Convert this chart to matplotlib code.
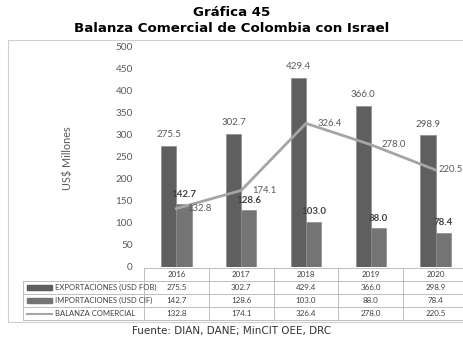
import matplotlib
matplotlib.use("Agg")
import matplotlib.pyplot as plt
from matplotlib.lines import Line2D
from matplotlib.patches import Rectangle

years = ["2016", "2017", "2018", "2019", "2020"]
exportaciones = [275.5, 302.7, 429.4, 366.0, 298.9]
importaciones = [142.7, 128.6, 103.0, 88.0, 78.4]
balanza = [132.8, 174.1, 326.4, 278.0, 220.5]
series_names = ["EXPORTACIONES (USD FOB)", "IMPORTACIONES (USD CIF)", "BALANZA COMERCIAL"]
y_ticks = [0, 50, 100, 150, 200, 250, 300, 350, 400, 450, 500]

W, H = 464, 339
C_EXP = "#5f5f5f"
C_IMP = "#747474"
C_BAL = "#a5a5a5"
C_TXT = "#404040"
C_GRID = "#bfbfbf"
FONT = "Lato"


def fx(x):
    return x / W


def fy(y):
    return 1 - y / H


fig = plt.figure(figsize=(W / 100, H / 100), dpi=100)
fig.patch.set_facecolor("white")

# outer chart frame
fig.add_artist(Rectangle((fx(8), fy(322)), fx(470) - fx(8), fy(40) - fy(322),
                         transform=fig.transFigure, fill=False,
                         edgecolor="#d0d0d0", linewidth=0.8))

# titles
fig.text(0.5, fy(12), "Gráfica 45", ha="center", va="center",
         fontsize=9.6, fontweight="bold", family="DejaVu Sans")
fig.text(0.5, fy(28), "Balanza Comercial de Colombia con Israel", ha="center",
         va="center", fontsize=9.6, fontweight="bold", family="DejaVu Sans")

ax = fig.add_axes([fx(144), fy(267), fx(468) - fx(144), fy(47) - fy(267)])
ax.set_facecolor("none")
n = len(years)
xs = list(range(n))
bw = 0.235
ax.bar([x - bw / 2 for x in xs], exportaciones, width=bw, color=C_EXP,
       edgecolor="#8c8c8c", linewidth=0.5, zorder=2)
ax.bar([x + bw / 2 for x in xs], importaciones, width=bw, color=C_IMP,
       edgecolor="#8c8c8c", linewidth=0.5, zorder=2)
ax.plot(xs, balanza, color=C_BAL, linewidth=2, zorder=3)

ax.set_xlim(-0.5, n - 0.5)
ax.set_ylim(0, 500)
ax.set_yticks(y_ticks)
ax.set_yticklabels([str(t) for t in y_ticks], fontsize=7.2, color="#595959",
                   family=FONT)
ax.tick_params(axis="y", length=0, pad=8)
ax.set_xticks([])
for s in ax.spines.values():
    s.set_visible(False)

for x, v in zip(xs, exportaciones):
    ax.annotate(f"{v:.1f}", (x - bw / 2, v), xytext=(0, 5),
                textcoords="offset points", ha="center", va="bottom",
                fontsize=7, color="#595959", family=FONT)
for x, v in zip(xs, importaciones):
    ax.annotate(f"{v:.1f}", (x + bw / 2, v), xytext=(0, 4),
                textcoords="offset points", ha="center", va="bottom",
                fontsize=7, color=C_TXT, fontweight="bold", family=FONT)
bal_offsets = [8, 8, 8, 8, 2]
for x, v, off in zip(xs, balanza, bal_offsets):
    ax.annotate(f"{v:.1f}", (x, v), xytext=(off, 0),
                textcoords="offset points", ha="left", va="center",
                fontsize=6.8, color="#595959", family=FONT)

fig.text(fx(68), fy(158), "US$ Millones", rotation=90, ha="center",
         va="center", fontsize=7.8, color="#595959", family=FONT)

# data table below the plot, columns aligned to the category slots
fig.canvas.draw()
to_fig = fig.transFigure.inverted()


def slot_x(v):
    disp = ax.transData.transform((v, 0))
    return to_fig.transform(disp)[0]


rows_y = [268, 281, 294, 307, 320]
left_col = fx(23)
x0 = slot_x(-0.5)
x1 = slot_x(n - 0.5)


def hline(xa, xb, y):
    fig.add_artist(Line2D([xa, xb], [fy(y), fy(y)], transform=fig.transFigure,
                          color=C_GRID, linewidth=0.7))


def vline(x, ya, yb):
    fig.add_artist(Line2D([x, x], [fy(ya), fy(yb)], transform=fig.transFigure,
                          color=C_GRID, linewidth=0.7))


hline(x0, x1, rows_y[0])
for y in rows_y[1:]:
    hline(left_col, x1, y)
vline(left_col, rows_y[1], rows_y[-1])
for k in range(n + 1):
    vline(slot_x(k - 0.5), rows_y[0], rows_y[-1])

for k, yr in enumerate(years):
    fig.text(slot_x(k), fy((rows_y[0] + rows_y[1]) / 2), yr, ha="center",
             va="center", fontsize=5.8, color=C_TXT, family=FONT)

table_rows = [exportaciones, importaciones, balanza]
for r, (name, vals) in enumerate(zip(series_names, table_rows)):
    yc = fy((rows_y[r + 1] + rows_y[r + 2]) / 2)
    if r < 2:
        fig.add_artist(Rectangle((fx(27), yc - 2.5 / H), fx(52) - fx(27), 5 / H,
                                 transform=fig.transFigure,
                                 color=C_EXP if r == 0 else C_IMP))
    else:
        fig.add_artist(Line2D([fx(27), fx(52)], [yc, yc],
                              transform=fig.transFigure, color=C_BAL,
                              linewidth=1.5))
    fig.text(fx(55), yc, name, ha="left", va="center", fontsize=5.5,
             color=C_TXT, family=FONT)
    for k, v in enumerate(vals):
        fig.text(slot_x(k), yc, f"{v:.1f}", ha="center", va="center",
                 fontsize=5.8, color=C_TXT, family=FONT)

fig.text(0.5, fy(331), "Fuente: DIAN, DANE; MinCIT OEE, DRC", ha="center",
         va="center", fontsize=7.5, color="#333333", family="DejaVu Sans")

fig.savefig("out.png", dpi=100)
